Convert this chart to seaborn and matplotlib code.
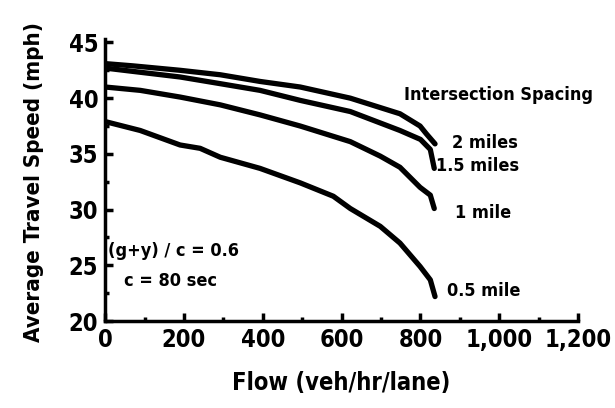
import numpy as np
import pandas as pd
import matplotlib
matplotlib.use('Agg')
from matplotlib import pyplot as plt
from matplotlib.ticker import MultipleLocator, FuncFormatter
import seaborn as sns

# values
flow_2mi = [0, 70, 190, 292, 393, 495, 622, 748, 799, 815, 837]
speed_2mi = [43.1, 42.9, 42.5, 42.1, 41.5, 41.0, 40.0, 38.6, 37.5, 36.8, 35.9]

flow_15mi = [0, 71, 190, 292, 393, 495, 622, 748, 800, 825, 835]
speed_15mi = [42.7, 42.4, 41.9, 41.3, 40.7, 39.8, 38.8, 37.1, 36.3, 35.4, 33.7]

flow_1mi = [0, 89, 190, 292, 393, 495, 622, 698, 748, 799, 825, 835]
speed_1mi = [41.0, 40.7, 40.1, 39.4, 38.5, 37.5, 36.1, 34.8, 33.8, 32.0, 31.3, 30.1]

flow_05mi = [0, 89, 190, 241, 292, 393, 495, 579, 622, 698, 748, 799, 825, 837]
speed_05mi = [37.9, 37.1, 35.8, 35.5, 34.7, 33.7, 32.4, 31.2, 30.1, 28.5, 27.0, 24.9, 23.7, 22.2]

spacing = ['2 miles', '1.5 miles', '1 mile', '0.5 mile']

#%%
frames = []
for name, f, s in zip(spacing,
                      [flow_2mi, flow_15mi, flow_1mi, flow_05mi],
                      [speed_2mi, speed_15mi, speed_1mi, speed_05mi]):
    frames.append(pd.DataFrame({'flow': f, 'speed': s, 'spacing': name}))
df = pd.concat(frames, ignore_index=True)

sns.set_style('ticks')
plt.rcParams['font.family'] = ['DejaVu Sans']
plt.rcParams['font.stretch'] = 'condensed'
plt.rcParams['font.weight'] = 'bold'
plt.rcParams['axes.labelweight'] = 'bold'
for key in ['text.color', 'axes.labelcolor', 'xtick.color', 'ytick.color', 'axes.edgecolor']:
    plt.rcParams[key] = 'black'

fig = plt.figure(figsize=(6.15, 4.08), dpi=100)
ax = fig.add_axes([0.171, 0.213, 0.769, 0.683])

sns.lineplot(data=df, x='flow', y='speed', hue='spacing', sort=False,
             palette=['black'] * 4, linewidth=3.8, legend=False, ax=ax,
             solid_capstyle='round', solid_joinstyle='round')

ax.set_xlim(0, 1200)
ax.set_ylim(20, 45)
ax.xaxis.set_major_locator(MultipleLocator(200))
ax.xaxis.set_minor_locator(MultipleLocator(100))
ax.yaxis.set_major_locator(MultipleLocator(5))
ax.yaxis.set_minor_locator(MultipleLocator(2.5))
ax.xaxis.set_major_formatter(FuncFormatter(lambda v, p: f'{int(v):,}'))
ax.tick_params(which='major', direction='in', length=6, width=2.5, labelsize=17, pad=5)
ax.tick_params(which='minor', direction='in', length=3, width=2.5)

for side in ['top', 'right']:
    ax.spines[side].set_visible(False)
for side in ['left', 'bottom']:
    ax.spines[side].set_linewidth(2.5)
ax.spines['left'].set_bounds(20, 45.3)

ax.set_xlabel('Flow (veh/hr/lane)', fontsize=17, labelpad=14)
ax.set_ylabel('Average Travel Speed (mph)', fontsize=16, labelpad=18)

fs = 13
ax.text(997, 40.3, 'Intersection Spacing', fontsize=fs, ha='center', va='center')
ax.text(880, 36.0, '2 miles', fontsize=fs, ha='left', va='center')
ax.text(840, 33.9, '1.5 miles', fontsize=fs, ha='left', va='center')
ax.text(888, 29.7, '1 mile', fontsize=fs, ha='left', va='center')
ax.text(868, 22.7, '0.5 mile', fontsize=fs, ha='left', va='center')
ax.text(8, 26.3, '(g+y) / c = 0.6', fontsize=fs, ha='left', va='center')
ax.text(48, 23.6, 'c = 80 sec', fontsize=fs, ha='left', va='center')

plt.savefig('out.png', dpi=100)
plt.close()
